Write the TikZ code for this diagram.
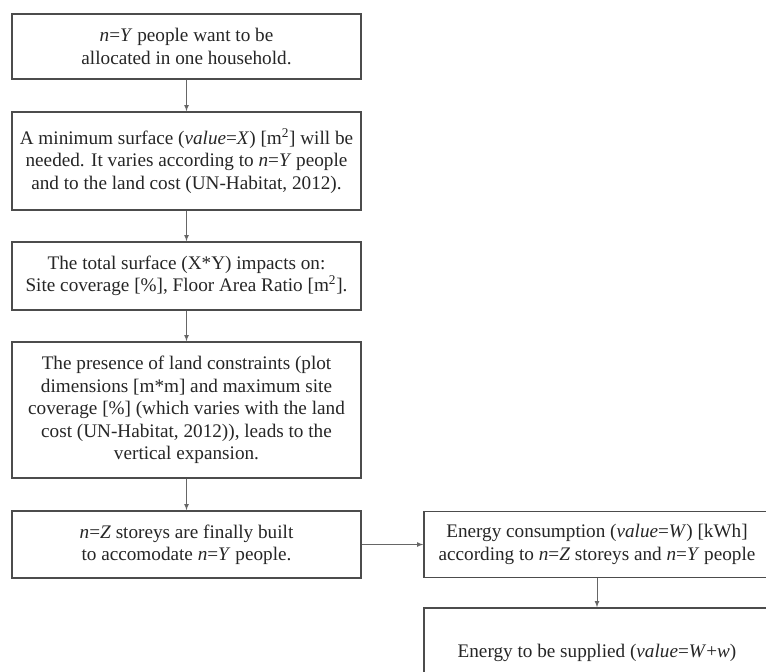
\documentclass[tikz,border=0pt]{standalone}
\usepackage{fontspec}
\setmainfont{Liberation Serif}
\usepackage{tikz}

\tikzset{
  flowbox/.style={draw=black!70, line width=1.1pt, fill=white, align=center,
    inner sep=0pt, text=black!85, font=\fontsize{14.4}{16.8}\selectfont},
  flowarrow/.style={->, >=latex, draw=black!60, line width=0.6pt}
}

\begin{document}
\begin{tikzpicture}[x=0.75pt,y=-0.75pt]
    \clip (0,0) rectangle (766,671);
    % left column
    \node[flowbox, minimum width=349*0.75pt, minimum height=65*0.75pt] (people) at (186.5,46.5)
      {\textit{n}=\textit{Y} people want to be\\allocated in one household.};
    \node[flowbox, minimum width=349*0.75pt, minimum height=98*0.75pt] (surface) at (186.5,161)
      {A minimum surface (\textit{value}=\textit{X}) [m\textsuperscript{2}] will be\\needed. It varies according to \textit{n}=\textit{Y} people\\and to the land cost (UN-Habitat, 2012).};
    \node[flowbox, minimum width=349*0.75pt, minimum height=68*0.75pt] (total) at (186.5,276)
      {The total surface (X*Y) impacts on:\\Site coverage [\%], Floor Area Ratio [m\textsuperscript{2}].};
    \node[flowbox, minimum width=349*0.75pt, minimum height=136*0.75pt] (land) at (186.5,410)
      {The presence of land constraints (plot\\dimensions [m*m] and maximum site\\coverage [\%] (which varies with the land\\cost (UN-Habitat, 2012)), leads to the\\vertical expansion.};
    \node[flowbox, minimum width=349*0.75pt, minimum height=67*0.75pt] (storeys) at (186.5,544.5)
      {\textit{n}=\textit{Z} storeys are finally built\\to accomodate \textit{n}=\textit{Y} people.};
    % right column
    \node[flowbox, minimum width=346*0.75pt, minimum height=66*0.75pt] (consumption) at (597,544.5)
      {Energy consumption (\textit{value}=\textit{W}) [kWh]\\according to \textit{n}=\textit{Z} storeys and \textit{n}=\textit{Y} people};
    \node[flowbox, minimum width=346*0.75pt, minimum height=90*0.75pt] (supplied) at (597,653)
      {Energy to be supplied (\textit{value}=\textit{W}+\textit{w})};
    % connectors
    \foreach \a/\b in {people/surface, surface/total, total/land, land/storeys, consumption/supplied}
      \draw[flowarrow] (\a) -- (\b);
    \draw[flowarrow] (storeys) -- (consumption);
\end{tikzpicture}
\end{document}
